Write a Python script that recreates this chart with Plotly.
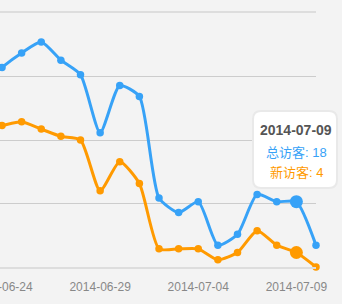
import plotly.graph_objects as go

dates = ["2014-06-23", "2014-06-24", "2014-06-25", "2014-06-26", "2014-06-27", "2014-06-28",
         "2014-06-29", "2014-06-30", "2014-07-01", "2014-07-02", "2014-07-03", "2014-07-04",
         "2014-07-05", "2014-07-06", "2014-07-07", "2014-07-08", "2014-07-09", "2014-07-10"]
total_visitors = [50, 55, 59, 62, 57, 53, 37, 50, 47, 19, 15, 18, 6, 9, 20, 18, 18, 6]
new_visitors = [38, 39, 40, 38, 36, 35, 21, 29, 23, 5, 5, 5, 2, 4, 10, 6, 4, 0]
tick_dates = ["2014-06-24", "2014-06-29", "2014-07-04", "2014-07-09"]
highlight_date = "2014-07-09"
series_names = ["总访客", "新访客"]

BLUE = "#37a2f7"
ORANGE = "#ff9a00"
FONT = "Liberation Sans, Arial, Noto Sans CJK SC, sans-serif"

W, H = 342, 304
L, R, T, B = 0, 26, 13, 37
pw, ph = W - L - R, H - T - B

hi = dates.index(highlight_date)
sizes = [13 if i == hi else 7.5 for i in range(len(dates))]

fig = go.Figure()
for vals, col, name in [(total_visitors, BLUE, series_names[0]), (new_visitors, ORANGE, series_names[1])]:
    fig.add_trace(go.Scatter(
        x=dates, y=vals, mode="lines+markers", name=name, opacity=1,
        line=dict(color=col, width=3, shape="spline", smoothing=0.6),
        marker=dict(color=col, size=sizes, opacity=1, line=dict(width=0)),
        cliponaxis=False, hoverinfo="skip"))

# tooltip box (pixel -> paper)
def px(xp):
    return (xp - L) / pw

def py(yp):
    return (H - B - yp) / ph

bx0, bx1, by0, by1 = 253, 337, 111, 188
r = 8
rx, ry = r / pw, r / ph
x0, x1, y0, y1 = px(bx0), px(bx1), py(by1), py(by0)
path = (f"M {x0+rx},{y0} L {x1-rx},{y0} Q {x1},{y0} {x1},{y0+ry} "
        f"L {x1},{y1-ry} Q {x1},{y1} {x1-rx},{y1} L {x0+rx},{y1} Q {x0},{y1} {x0},{y1-ry} "
        f"L {x0},{y0+ry} Q {x0},{y0} {x0+rx},{y0} Z")
fig.add_shape(type="path", path=path, xref="paper", yref="paper",
              fillcolor="white", line=dict(color="#e9e9e9", width=2), layer="above")

cx = px(296)
for yp, txt, col, sz in [(130, f"<b>{highlight_date}</b>", "#555555", 14),
                         (152, f"{series_names[0]}: {total_visitors[hi]}", BLUE, 13),
                         (172, f"{series_names[1]}: {new_visitors[hi]}", ORANGE, 13)]:
    fig.add_annotation(x=cx, y=py(yp), xref="paper", yref="paper", showarrow=False,
                       xanchor="center", yanchor="middle",
                       text=txt, font=dict(size=sz, color=col, family=FONT))

fig.update_layout(
    width=W, height=H, margin=dict(l=L, r=R, t=T, b=B, autoexpand=False),
    paper_bgcolor="#f3f3f3", plot_bgcolor="#f3f3f3",
    showlegend=False, hovermode=False,
    xaxis=dict(type="date", range=["2014-06-23 21:33", "2014-07-10"],
               tickvals=tick_dates, tickformat="%Y-%m-%d",
               ticklabeloverflow="allow", automargin=False,
               showgrid=False, zeroline=False,
               showline=True, linecolor="#dddddd", linewidth=2, mirror=True,
               ticks="outside", ticklen=8, tickcolor="rgba(0,0,0,0)",
               tickfont=dict(size=12, color="#888888", family=FONT)),
    yaxis=dict(range=[0, 70], tickvals=[17.5, 35, 52.5], showticklabels=False,
               showgrid=True, gridcolor="#cccccc", gridwidth=1, zeroline=False,
               showline=False, automargin=False),
)

fig.write_html("out.html")
